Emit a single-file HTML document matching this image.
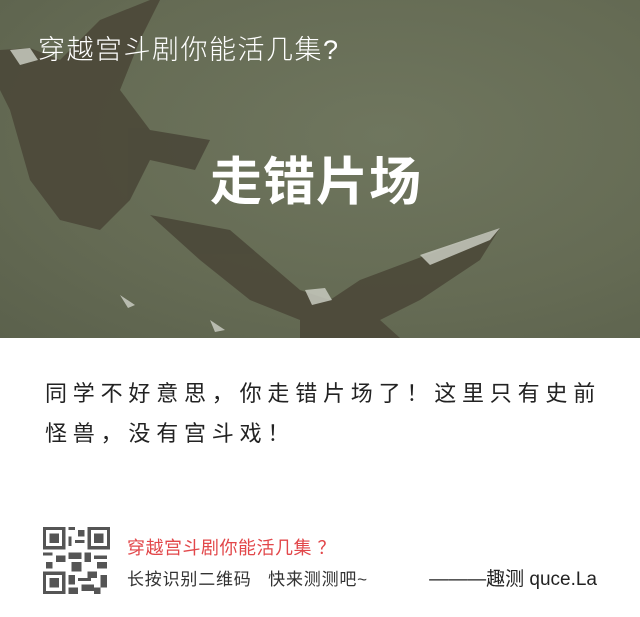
<!DOCTYPE html>
<html><head><meta charset="utf-8"><style>
body{margin:0;width:640px;height:617px;overflow:hidden;background:#fff;font-family:"Liberation Sans","Noto Sans CJK SC",sans-serif;}
#hero{position:absolute;left:0;top:0;width:640px;height:338px;background:radial-gradient(ellipse at 60% 40%,#6f765e 0%,#656b54 60%,#5b614c 100%);overflow:hidden}
.t1{position:absolute;left:38px;top:28px;color:#fff;font-size:27px;letter-spacing:1.5px;white-space:nowrap;font-weight:300}
.t2{position:absolute;left:210px;top:140px;color:#fff;font-size:52px;font-weight:bold;letter-spacing:1px;white-space:nowrap}
.desc{position:absolute;left:45px;top:374px;width:565px;font-size:22px;line-height:40px;color:#222;letter-spacing:5.8px;font-family:"Liberation Sans","WenQuanYi Zen Hei",sans-serif}
.qr{position:absolute;left:43px;top:527px;width:67px;height:67px}
.red{position:absolute;left:127px;top:534px;color:#e2474a;font-size:18px;letter-spacing:0.5px;white-space:nowrap}
.gray{position:absolute;left:127px;top:565px;color:#333;font-size:17px;letter-spacing:0.8px;white-space:nowrap}
.sig{position:absolute;right:43px;top:564px;color:#222;font-size:19px;white-space:nowrap}
</style></head><body>
<div id="hero">
<svg width="640" height="338">
<g fill="#4b4839" opacity="0.9">
<path d="M0 50 L30 48 L60 60 L100 20 L150 0 L160 0 L140 40 L120 90 L150 130 L210 140 L195 170 L150 160 L130 200 L100 230 L60 220 L30 180 L10 110 L0 90Z"/>
<path d="M150 215 L230 230 L300 290 L330 300 L360 280 L440 250 L500 228 L480 260 L420 300 L380 320 L400 338 L300 338 L300 320 L250 300 L200 260Z"/>
</g>
<g fill="#c8cac0" opacity="0.85">
<path d="M10 50 L30 48 L38 60 L20 65Z"/><path d="M305 290 L325 288 L332 300 L312 305Z"/>
<path d="M420 255 L500 228 L490 240 L430 265Z"/><path d="M120 295 L135 305 L128 308Z"/><path d="M210 320 L225 330 L215 332Z"/>
</g></svg>
<div class="t1">穿越宫斗剧你能活几集?</div>
<div class="t2">走错片场</div>
</div>
<div class="desc">同学不好意思，你走错片场了！这里只有史前怪兽，没有宫斗戏！</div>
<svg class="qr" viewBox="0 0 21 21" shape-rendering="crispEdges">
<g fill="#555">
<rect x="0" y="0" width="7" height="7"/><rect x="14" y="0" width="7" height="7"/><rect x="0" y="14" width="7" height="7"/>
</g><g fill="#fff"><rect x="1" y="1" width="5" height="5"/><rect x="15" y="1" width="5" height="5"/><rect x="1" y="15" width="5" height="5"/></g>
<g fill="#555"><rect x="2" y="2" width="3" height="3"/><rect x="16" y="2" width="3" height="3"/><rect x="2" y="16" width="3" height="3"/>
<rect x="8" y="0" width="2" height="1"/><rect x="11" y="1" width="2" height="2"/><rect x="8" y="3" width="1" height="3"/><rect x="10" y="4" width="3" height="1"/>
<rect x="0" y="8" width="3" height="1"/><rect x="4" y="9" width="3" height="2"/><rect x="8" y="8" width="4" height="2"/><rect x="13" y="8" width="2" height="3"/>
<rect x="16" y="9" width="4" height="1"/><rect x="1" y="11" width="2" height="2"/><rect x="9" y="11" width="3" height="3"/><rect x="17" y="11" width="3" height="2"/>
<rect x="8" y="15" width="2" height="3"/><rect x="11" y="16" width="4" height="1"/><rect x="14" y="14" width="3" height="2"/><rect x="18" y="15" width="2" height="4"/>
<rect x="12" y="18" width="4" height="2"/><rect x="8" y="19" width="3" height="2"/><rect x="16" y="19" width="2" height="2"/></g></svg>
<div class="red">穿越宫斗剧你能活几集 ？</div>
<div class="gray">长按识别二维码&nbsp;&nbsp;&nbsp;快来测测吧~</div>
<div class="sig">———趣测 quce.La</div>
</body></html>
